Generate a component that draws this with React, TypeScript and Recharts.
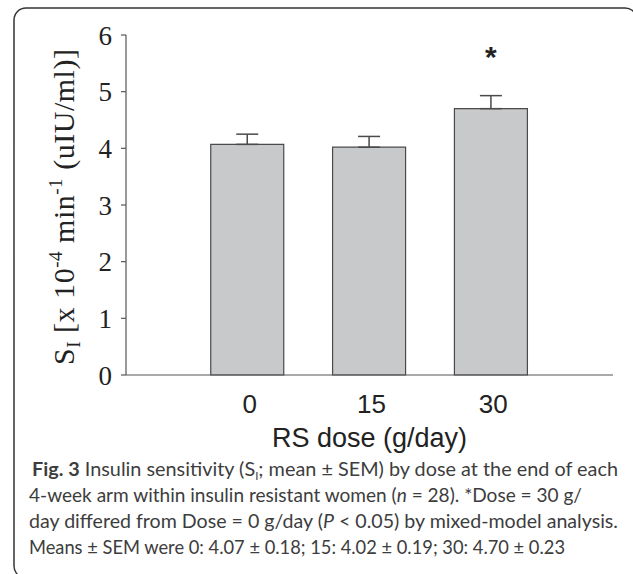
import React from "react";
import { Bar, BarChart, ErrorBar, LabelList, XAxis, YAxis, Label } from "recharts";

const doses = ["0", "15", "30"];
const means = [4.07, 4.02, 4.7];
const sems = [0.18, 0.19, 0.23];
const marks = ["", "", "*"];
const yTicks = [0, 1, 2, 3, 4, 5, 6];

const captionLines = [
    "line1",
    "4-week arm within insulin resistant women (",
    "day differed from Dose = 0 g/day (",
    "Means ± SEM were 0: 4.07 ± 0.18; 15: 4.02 ± 0.19; 30: 4.70 ± 0.23",
];

const data = doses.map((d, i) => ({
    dose: d,
    mean: means[i],
    err: [0, sems[i]],
    mark: marks[i],
}));

const axisColor = "#555";

const YTitle = ({ viewBox }: any) => {
    const cx = viewBox.x + 74;
    const cy = viewBox.y + viewBox.height / 2 + 2;
    return (
        <text
            x={cx}
            y={cy}
            transform={`rotate(-90 ${cx} ${cy})`}
            textAnchor="middle"
            fontFamily="'Liberation Serif', 'Times New Roman', serif"
            fontSize={30}
            fill="#222"
            textLength={316}
        >
            <tspan>S</tspan>
            <tspan fontSize={19} dy={6}>I</tspan>
            <tspan dy={-6}> [x 10</tspan>
            <tspan fontSize={19} dy={-12}>-4</tspan>
            <tspan dy={12}> min</tspan>
            <tspan fontSize={19} dy={-12}>-1</tspan>
            <tspan dy={12}> (uIU/ml)]</tspan>
        </text>
    );
};

const Star = ({ x, y, width, value }: any) => {
    if (!value) return null;
    return (
        <text
            x={x + width / 2}
            y={y - 42}
            textAnchor="middle"
            fontFamily="'Liberation Sans', Arial, sans-serif"
            fontWeight="bold"
            fontSize={30}
            fill="#222"
        >
            {value}
        </text>
    );
};

const capFont = "Lato, 'Open Sans', sans-serif";

export default function App() {
    return (
        <div style={{ position: "absolute", left: 0, top: 0, width: 633, height: 574, overflow: "hidden", background: "#fff" }}>
            <svg width={633} height={574} style={{ position: "absolute", left: 0, top: 0 }}>
                <rect x={14} y={8} width={623} height={570} rx={12} fill="none" stroke="#333" strokeWidth={1.5} />
            </svg>
            <div style={{ position: "absolute", left: 0, top: 0 }}>
                <BarChart width={633} height={455} data={data} margin={{ top: 35, right: 20, bottom: 0, left: 0 }}>
                    <YAxis
                        domain={[0, 6]}
                        ticks={yTicks}
                        width={126}
                        tickSize={5}
                        tickMargin={9}
                        stroke={axisColor}
                        axisLine={{ stroke: axisColor, strokeWidth: 1.2 }}
                        tickLine={{ stroke: axisColor, strokeWidth: 1.2 }}
                        tick={{ fill: "#222", fontSize: 27, fontFamily: "'Liberation Serif', 'Times New Roman', serif" }}
                    >
                        <Label content={<YTitle />} />
                    </YAxis>
                    <XAxis
                        dataKey="dose"
                        padding={{ left: 60.75, right: 60.75 }}
                        height={80}
                        tickLine={false}
                        tickSize={0}
                        tickMargin={20}
                        axisLine={{ stroke: axisColor, strokeWidth: 1.2 }}
                        tick={{ fill: "#222", fontSize: 26, fontFamily: "'Liberation Sans', Arial, sans-serif", dx: 2 }}
                    >
                        <Label
                            value="RS dose (g/day)"
                            position="insideBottom"
                            offset={8}
                            fill="#222"
                            fontSize={27}
                            fontFamily="'Liberation Sans', Arial, sans-serif"
                        />
                    </XAxis>
                    <Bar dataKey="mean" barSize={73} fill="#c8c9cb" stroke="#4a4a4a" strokeWidth={1.2} isAnimationActive={false}>
                        <ErrorBar dataKey="err" width={11} stroke="#4a4a4a" strokeWidth={1.5} isAnimationActive={false} />
                        <LabelList dataKey="mark" content={<Star />} />
                    </Bar>
                </BarChart>
            </div>
            <svg width={633} height={574} style={{ position: "absolute", left: 0, top: 0 }}>
                <g fontFamily={capFont} fontSize={19} fill="#3d3d3d">
                    <text x={32} y={476} textLength={586} lengthAdjust="spacingAndGlyphs">
                        <tspan fontWeight="bold">Fig. 3</tspan>
                        <tspan> Insulin sensitivity (S</tspan>
                        <tspan fontSize={11} dy={4}>I</tspan>
                        <tspan dy={-4}>; mean ± SEM) by dose at the end of each</tspan>
                    </text>
                    <text x={29} y={502} textLength={553} lengthAdjust="spacingAndGlyphs">
                        <tspan>{captionLines[1]}</tspan>
                        <tspan fontStyle="italic">n</tspan>
                        <tspan> = 28). *Dose = 30 g/</tspan>
                    </text>
                    <text x={29} y={528} textLength={589} lengthAdjust="spacingAndGlyphs">
                        <tspan>{captionLines[2]}</tspan>
                        <tspan fontStyle="italic">P</tspan>
                        <tspan> &lt; 0.05) by mixed-model analysis.</tspan>
                    </text>
                    <text x={29} y={554} textLength={536} lengthAdjust="spacingAndGlyphs">
                        {captionLines[3]}
                    </text>
                </g>
            </svg>
        </div>
    );
}
